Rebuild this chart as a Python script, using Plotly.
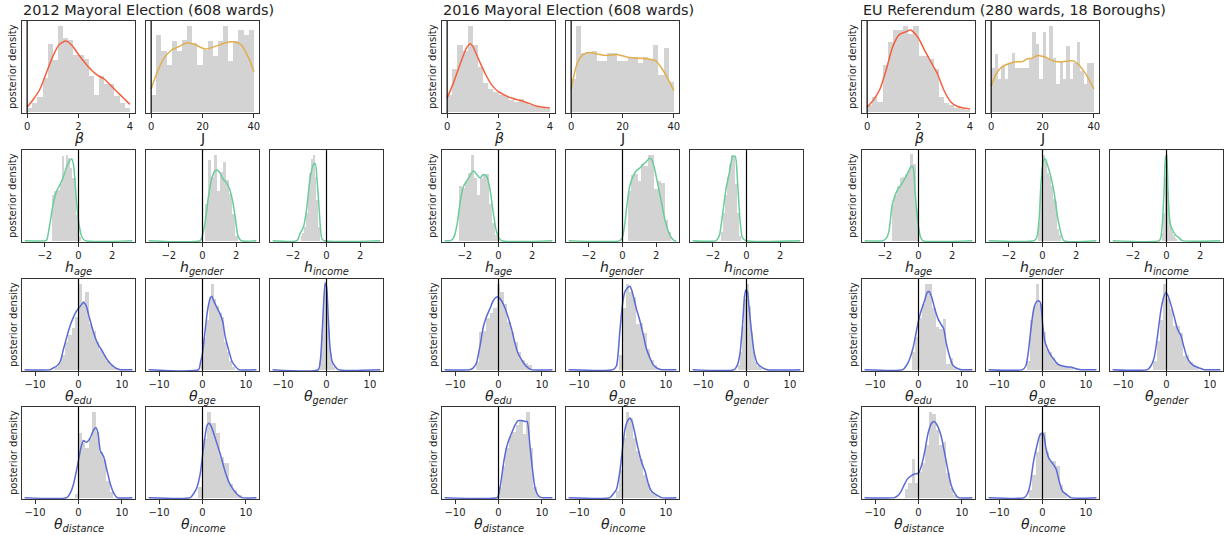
import plotly.graph_objects as go

# ---------------- titles / labels ----------------
group_titles = ["2012 Mayoral Election (608 wards)",
                "2016 Mayoral Election (608 wards)",
                "EU Referendum (280 wards, 18 Boroughs)"]
y_label = "posterior density"
beta_ticks = [0, 2, 4]
j_ticks = [0, 20, 40]
h_ticks = [-2, 0, 2]
theta_ticks = [-10, 0, 10]

# ---------------- 2012 Mayoral Election ----------------
b12_hist_start, b12_hist_width = 0.0, 0.2
b12_hist = [0.04, 0.10, 0.16, 0.37, 0.75, 0.57, 0.95, 0.81, 0.79, 0.63, 0.63, 0.58, 0.39, 0.18, 0.39, 0.31, 0.31, 0.17, 0.10, 0.04]
b12_kde_x = [0, 0.25, 0.5, 0.75, 1.0, 1.25, 1.5, 1.75, 2.0, 2.25, 2.5, 2.75, 3.0, 3.25, 3.5, 3.75, 4.0]
b12_kde_y = [0.05, 0.14, 0.25, 0.43, 0.61, 0.74, 0.78, 0.73, 0.63, 0.54, 0.46, 0.40, 0.36, 0.29, 0.22, 0.15, 0.08]

j12_hist_start, j12_hist_width = 0.0, 2.0
j12_hist = [0.18, 0.85, 0.67, 0.52, 0.78, 0.67, 0.79, 0.95, 0.76, 0.52, 0.68, 0.78, 0.61, 0.78, 0.95, 0.56, 0.78, 0.90, 0.85, 0.90]
j12_kde_x = [0, 2, 5, 8, 11, 14, 17, 21, 25, 29, 32, 35, 38, 40]
j12_kde_y = [0.25, 0.41, 0.59, 0.68, 0.72, 0.76, 0.74, 0.69, 0.72, 0.76, 0.77, 0.74, 0.59, 0.44]

ha12_hist_start, ha12_hist_width = -1.56, 0.12
ha12_hist = [0.50, 0.55, 0.55, 0.56, 0.62, 0.93, 0.75, 0.95, 0.91, 0.80, 0.69, 0.69, 0.28, 0.04]
ha12_kde_x = [-3.2, -1.95, -1.88, -1.68, -1.49, -1.29, -1.09, -0.89, -0.69, -0.5, -0.4, -0.3, -0.2, -0.1, 0.04, 0.2, 0.4, 3.2]
ha12_kde_y = [0, 0, 0.01, 0.21, 0.42, 0.55, 0.62, 0.71, 0.82, 0.89, 0.90, 0.84, 0.64, 0.39, 0.17, 0.04, 0, 0]

hg12_hist_start, hg12_hist_width = 0.12, 0.18
hg12_hist = [0.40, 0.89, 0.70, 0.95, 0.55, 0.76, 0.87, 0.67, 0.52, 0.29, 0.05]
hg12_kde_x = [-3.2, -0.14, 0, 0.16, 0.35, 0.54, 0.74, 0.87, 1.03, 1.22, 1.42, 1.61, 1.81, 1.96, 2.1, 2.29, 3.2]
hg12_kde_y = [0, 0, 0.06, 0.21, 0.48, 0.68, 0.77, 0.78, 0.75, 0.68, 0.64, 0.57, 0.42, 0.24, 0.06, 0, 0]

hi12_hist_start, hi12_hist_width = -1.5, 0.1
hi12_hist = [0.05, 0.08, 0.15, 0.30, 0.50, 0.75, 0.90, 0.95, 0.70, 0.45, 0.15]
hi12_kde_x = [-3.2, -1.76, -1.57, -1.37, -1.18, -0.98, -0.78, -0.67, -0.55, -0.43, -0.29, -0.16, 3.2]
hi12_kde_y = [0, 0, 0.08, 0.15, 0.35, 0.68, 0.84, 0.85, 0.64, 0.33, 0.03, 0, 0]

te12_hist_start, te12_hist_width = -5.6, 0.8
te12_hist = [0.03, 0.07, 0.16, 0.30, 0.38, 0.46, 0.58, 0.94, 0.76, 0.86, 0.50, 0.43, 0.30, 0.22, 0.16, 0.10, 0.05, 0.02]
te12_kde_x = [-12.4, -6.5, -5.8, -5.0, -4.2, -3.5, -2.7, -1.9, -1.15, -0.4, 0.4, 1.15, 1.8, 2.3, 3.1, 3.8, 4.6, 5.4, 6.2, 6.9, 7.7, 8.5, 9.6, 12.4]
te12_kde_y = [0, 0, 0.02, 0.04, 0.09, 0.22, 0.36, 0.49, 0.58, 0.65, 0.70, 0.74, 0.70, 0.61, 0.47, 0.36, 0.27, 0.21, 0.14, 0.09, 0.05, 0.02, 0, 0]

tag12_hist_start, tag12_hist_width = -0.4, 0.6
tag12_hist = [0.08, 0.35, 0.55, 0.80, 0.95, 0.78, 0.70, 0.62, 0.58, 0.30, 0.20, 0.09, 0.03]
tag12_kde_x = [-12.4, -0.9, -0.5, 0, 0.6, 1.15, 1.8, 2.15, 2.5, 3.15, 4.1, 4.7, 5.2, 6.0, 6.8, 7.5, 8.3, 12.4]
tag12_kde_y = [0, 0, 0.07, 0.18, 0.43, 0.65, 0.79, 0.81, 0.77, 0.70, 0.61, 0.52, 0.37, 0.22, 0.09, 0.04, 0, 0]

tgn12_hist_start, tgn12_hist_width = -1.6, 0.4
tgn12_hist = [0.10, 0.38, 0.80, 0.97, 0.85, 0.45, 0.18, 0.07, 0.03]
tgn12_kde_x = [-12.4, -1.9, -1.4, -0.9, -0.6, -0.3, 0, 0.4, 0.8, 1.3, 1.9, 2.7, 12.4]
tgn12_kde_y = [0, 0, 0.11, 0.50, 0.79, 0.95, 0.92, 0.58, 0.25, 0.09, 0.04, 0, 0]

td12_hist_start, td12_hist_width = -0.8, 0.8
td12_hist = [0.04, 0.71, 0.60, 0.55, 0.66, 0.95, 0.72, 0.50, 0.42, 0.18, 0.06]
td12_kde_x = [-12.4, -2.7, -1.9, -1.2, -0.5, 0, 0.55, 1.15, 1.8, 2.3, 2.9, 3.5, 4.0, 4.5, 5.0, 5.8, 6.6, 7.4, 8.1, 8.9, 12.4]
td12_kde_y = [0, 0, 0.05, 0.14, 0.29, 0.41, 0.55, 0.63, 0.61, 0.63, 0.68, 0.75, 0.77, 0.71, 0.52, 0.45, 0.29, 0.14, 0.05, 0, 0]

ti12_hist_start, ti12_hist_width = -1.0, 1.0
ti12_hist = [0.12, 0.65, 0.95, 0.82, 0.71, 0.45, 0.38, 0.15, 0.08, 0.03]
ti12_kde_x = [-12.4, -2.8, -2.1, -1.3, -0.5, 0, 0.6, 1.0, 1.5, 2.15, 2.9, 4.1, 5.0, 6.0, 6.8, 7.9, 9.1, 12.4]
ti12_kde_y = [0, 0, 0.04, 0.11, 0.27, 0.46, 0.68, 0.79, 0.82, 0.77, 0.66, 0.48, 0.32, 0.18, 0.11, 0.04, 0, 0]

# ---------------- 2016 Mayoral Election ----------------
b16_hist_start, b16_hist_width = 0.0, 0.2
b16_hist = [0.18, 0.47, 0.74, 0.67, 0.95, 0.74, 0.49, 0.32, 0.25, 0.22, 0.18, 0.17, 0.13, 0.11, 0.14, 0.09, 0.07, 0.06, 0.04, 0.03]
b16_kde_x = [0, 0.25, 0.5, 0.75, 0.9, 1.0, 1.25, 1.5, 1.75, 2.0, 2.5, 3.0, 3.5, 4.0]
b16_kde_y = [0.15, 0.32, 0.52, 0.70, 0.75, 0.72, 0.56, 0.41, 0.29, 0.22, 0.15, 0.11, 0.06, 0.04]

j16_hist_start, j16_hist_width = 0.0, 2.0
j16_hist = [0.36, 0.95, 0.65, 0.65, 0.67, 0.56, 0.56, 0.65, 0.65, 0.56, 0.56, 0.60, 0.60, 0.54, 0.60, 0.58, 0.74, 0.40, 0.70, 0.33]
j16_kde_x = [0, 2, 4, 6, 8, 11, 14, 18, 22, 26, 30, 33, 35, 37, 40]
j16_kde_y = [0.25, 0.50, 0.61, 0.65, 0.65, 0.63, 0.62, 0.63, 0.60, 0.59, 0.58, 0.56, 0.49, 0.40, 0.23]

ha16_hist_start, ha16_hist_width = -2.35, 0.18
ha16_hist = [0.60, 0.58, 0.66, 0.75, 0.95, 0.69, 0.50, 0.69, 0.74, 0.74, 0.40, 0.19, 0.06]
ha16_kde_x = [-3.2, -2.86, -2.67, -2.47, -2.27, -2.08, -1.88, -1.69, -1.49, -1.29, -1.1, -0.9, -0.7, -0.51, -0.31, -0.16, 0, 0.18, 3.2]
ha16_kde_y = [0, 0, 0.03, 0.17, 0.44, 0.60, 0.66, 0.72, 0.77, 0.73, 0.69, 0.73, 0.71, 0.57, 0.31, 0.13, 0.04, 0, 0]

hg16_hist_start, hg16_hist_width = 0.3, 0.2
hg16_hist = [0.55, 0.72, 0.74, 0.66, 0.85, 0.82, 0.95, 0.95, 0.57, 0.66, 0.64, 0.23, 0.10]
hg16_kde_x = [-3.2, -0.16, 0, 0.14, 0.27, 0.43, 0.63, 0.82, 1.02, 1.22, 1.41, 1.61, 1.75, 1.9, 2.1, 2.3, 2.49, 2.69, 2.88, 3.08, 3.2]
hg16_kde_y = [0, 0, 0.04, 0.19, 0.40, 0.60, 0.71, 0.77, 0.80, 0.84, 0.87, 0.91, 0.89, 0.80, 0.62, 0.44, 0.26, 0.12, 0.04, 0, 0]

hi16_hist_start, hi16_hist_width = -1.5, 0.12
hi16_hist = [0.10, 0.30, 0.50, 0.70, 0.85, 0.95, 0.93, 0.62, 0.30, 0.05]
hi16_kde_x = [-3.2, -1.8, -1.61, -1.41, -1.22, -1.02, -0.82, -0.67, -0.53, -0.39, -0.24, -0.04, 3.2]
hi16_kde_y = [0, 0, 0.06, 0.31, 0.57, 0.75, 0.93, 0.93, 0.64, 0.24, 0.03, 0, 0]

te16_hist_start, te16_hist_width = -5.2, 0.8
te16_hist = [0.08, 0.41, 0.43, 0.57, 0.62, 0.68, 0.95, 0.86, 0.72, 0.53, 0.42, 0.31, 0.20, 0.11, 0.07, 0.05]
te16_kde_x = [-12.4, -6.6, -5.8, -5.1, -4.3, -3.5, -2.8, -2.0, -1.2, -0.5, 0, 0.7, 1.5, 2.2, 3.0, 3.8, 4.5, 5.3, 6.1, 6.8, 7.6, 12.4]
te16_kde_y = [0, 0, 0.02, 0.07, 0.25, 0.47, 0.58, 0.67, 0.76, 0.80, 0.80, 0.76, 0.68, 0.58, 0.45, 0.29, 0.18, 0.11, 0.05, 0.02, 0, 0]

tag16_hist_start, tag16_hist_width = -0.8, 0.8
tag16_hist = [0.16, 0.68, 0.95, 0.86, 0.80, 0.50, 0.52, 0.40, 0.23, 0.11, 0.05]
tag16_kde_x = [-12.4, -2.2, -1.4, -0.6, 0, 0.5, 1.1, 1.7, 2.1, 2.6, 3.2, 4.0, 4.8, 5.5, 6.3, 7.1, 8.2, 9.0, 12.4]
tag16_kde_y = [0, 0, 0.04, 0.43, 0.72, 0.85, 0.90, 0.92, 0.88, 0.79, 0.67, 0.54, 0.38, 0.23, 0.13, 0.05, 0.01, 0, 0]

tgn16_hist_start, tgn16_hist_width = -2.0, 0.5
tgn16_hist = [0.05, 0.20, 0.48, 0.78, 0.95, 0.70, 0.42, 0.20, 0.08, 0.04, 0.02]
tgn16_kde_x = [-12.4, -2.85, -2.1, -1.5, -0.9, -0.45, -0.15, 0.25, 0.6, 1.2, 1.8, 2.5, 3.7, 4.8, 12.4]
tgn16_kde_y = [0, 0, 0.05, 0.18, 0.50, 0.81, 0.88, 0.85, 0.68, 0.40, 0.18, 0.07, 0.02, 0, 0]

td16_hist_start, td16_hist_width = 0.0, 0.8
td16_hist = [0.12, 0.35, 0.55, 0.68, 0.72, 0.80, 0.86, 0.70, 0.95, 0.55, 0.12, 0.02]
td16_kde_x = [-12.4, -0.3, 0, 0.46, 1.1, 1.6, 2.2, 3.0, 3.8, 4.5, 5.3, 6.1, 6.6, 7.2, 7.8, 8.4, 9.2, 9.9, 12.4]
td16_kde_y = [0, 0, 0.03, 0.14, 0.36, 0.50, 0.61, 0.71, 0.80, 0.85, 0.85, 0.84, 0.84, 0.59, 0.32, 0.11, 0.02, 0, 0]

ti16_hist_start, ti16_hist_width = -1.6, 0.8
ti16_hist = [0.07, 0.30, 0.66, 0.95, 0.88, 0.66, 0.52, 0.43, 0.25, 0.15, 0.06, 0.03]
ti16_kde_x = [-12.4, -2.9, -2.15, -1.4, -0.6, 0, 0.55, 1.1, 1.7, 2.2, 2.85, 3.6, 4.4, 5.2, 5.9, 6.7, 7.8, 9.0, 12.4]
ti16_kde_y = [0, 0, 0.04, 0.09, 0.29, 0.54, 0.75, 0.84, 0.88, 0.84, 0.71, 0.54, 0.39, 0.29, 0.16, 0.07, 0.03, 0, 0]

# ---------------- EU Referendum ----------------
beu_hist_start, beu_hist_width = 0.0, 0.2
beu_hist = [0.07, 0.16, 0.11, 0.52, 0.77, 0.90, 0.90, 0.95, 0.86, 0.95, 0.61, 0.61, 0.58, 0.47, 0.16, 0.09, 0.07, 0.04, 0.03, 0.02]
beu_kde_x = [0, 0.25, 0.5, 0.75, 1.0, 1.25, 1.5, 1.7, 2.0, 2.25, 2.5, 2.75, 3.0, 3.25, 3.5, 3.75, 4.0]
beu_kde_y = [0.05, 0.13, 0.25, 0.47, 0.72, 0.85, 0.88, 0.90, 0.81, 0.67, 0.54, 0.41, 0.23, 0.11, 0.06, 0.04, 0.03]

jeu_hist_start, jeu_hist_width = 0.0, 40 / 30
jeu_hist = [0.48, 0.64, 0.36, 0.50, 0.36, 0.54, 0.65, 0.48, 0.48, 0.48, 0.48, 0.59, 0.88, 0.75, 0.36, 0.88,
            0.59, 0.94, 0.59, 0.31, 0.55, 0.36, 0.72, 0.36, 0.54, 0.77, 0.45, 0.30, 0.54, 0.54]
jeu_kde_x = [0, 2, 4, 6, 8, 10, 12, 14, 16, 18, 20, 22, 24, 26, 28, 30, 32, 34, 36, 38, 40]
jeu_kde_y = [0.28, 0.42, 0.49, 0.52, 0.54, 0.55, 0.55, 0.58, 0.59, 0.62, 0.61, 0.59, 0.56, 0.55, 0.55, 0.56, 0.56, 0.52, 0.45, 0.36, 0.25]

haeu_hist_start, haeu_hist_width = -1.6, 0.16
haeu_hist = [0.40, 0.50, 0.60, 0.69, 0.70, 0.74, 0.78, 0.96, 0.85, 0.35]
haeu_kde_x = [-3.2, -2.1, -1.9, -1.76, -1.57, -1.41, -1.22, -1.02, -0.82, -0.63, -0.43, -0.31, -0.2, -0.04, 0.12, 0.25, 3.2]
haeu_kde_y = [0, 0, 0.03, 0.10, 0.39, 0.49, 0.57, 0.62, 0.68, 0.75, 0.82, 0.80, 0.53, 0.21, 0.04, 0, 0]

hgeu_hist_start, hgeu_hist_width = -0.24, 0.12
hgeu_hist = [0.20, 0.57, 0.95, 0.87, 0.75, 0.71, 0.60, 0.46, 0.44, 0.13, 0.06]
hgeu_kde_x = [-3.2, -0.5, -0.33, -0.2, -0.1, 0, 0.14, 0.29, 0.49, 0.69, 0.88, 1.08, 1.27, 3.2]
hgeu_kde_y = [0, 0, 0.04, 0.24, 0.60, 0.82, 0.91, 0.84, 0.71, 0.53, 0.28, 0.10, 0, 0]

hieu_hist_start, hieu_hist_width = -0.24, 0.08
hieu_hist = [0.08, 0.30, 0.70, 0.95, 0.55, 0.22, 0.14, 0.10, 0.06, 0.03, 0.02]
hieu_kde_x = [-3.2, -0.43, -0.33, -0.24, -0.14, -0.06, 0.02, 0.1, 0.22, 0.35, 0.55, 0.75, 0.94, 3.2]
hieu_kde_y = [0, 0, 0.04, 0.21, 0.57, 0.93, 0.89, 0.49, 0.19, 0.12, 0.06, 0.03, 0, 0]

teeu_hist_start, teeu_hist_width = -1.6, 0.8
teeu_hist = [0.20, 0.36, 0.57, 0.72, 0.95, 0.95, 0.68, 0.47, 0.45, 0.56, 0.06, 0.13, 0.03]
teeu_kde_x = [-12.4, -3.6, -2.85, -2.1, -1.3, -0.54, 0, 0.6, 1.4, 2.0, 2.5, 3.1, 3.7, 4.5, 5.2, 5.8, 6.4, 7.2, 7.9, 8.7, 9.8, 12.4]
teeu_kde_y = [0, 0, 0.04, 0.11, 0.23, 0.41, 0.54, 0.65, 0.76, 0.85, 0.86, 0.79, 0.68, 0.56, 0.50, 0.45, 0.29, 0.14, 0.05, 0.02, 0, 0]

tageu_hist_start, tageu_hist_width = -3.5, 0.7
tageu_hist = [0.10, 0.55, 0.70, 0.95, 0.72, 0.42, 0.23, 0.20, 0.13, 0.08, 0.05, 0.04, 0.03, 0.03, 0.02]
tageu_kde_x = [-12.4, -4.6, -3.85, -3.3, -2.7, -2.1, -1.5, -1.0, -0.5, 0, 0.5, 1.15, 1.9, 2.7, 3.5, 4.6, 5.8, 6.5, 7.7, 8.8, 12.4]
tageu_kde_y = [0, 0, 0.04, 0.18, 0.43, 0.65, 0.74, 0.76, 0.74, 0.52, 0.32, 0.23, 0.16, 0.11, 0.06, 0.04, 0.03, 0.03, 0.01, 0, 0]

tgneu_hist_start, tgneu_hist_width = -3.0, 0.75
tgneu_hist = [0.10, 0.32, 0.55, 0.95, 0.78, 0.67, 0.48, 0.48, 0.40, 0.15, 0.16, 0.08, 0.04, 0.02]
tgneu_kde_x = [-12.4, -4.4, -3.6, -2.85, -2.1, -1.3, -0.7, -0.15, 0.4, 1.0, 1.8, 2.5, 3.3, 3.9, 4.7, 5.6, 6.4, 7.5, 8.7, 12.4]
tgneu_kde_y = [0, 0, 0.04, 0.13, 0.36, 0.65, 0.79, 0.85, 0.81, 0.72, 0.58, 0.45, 0.38, 0.27, 0.14, 0.07, 0.04, 0.02, 0, 0]

tdeu_hist_start, tdeu_hist_width = -3.2, 0.8
tdeu_hist = [0.10, 0.16, 0.43, 0.16, 0.28, 0.38, 0.58, 0.94, 0.92, 0.75, 0.58, 0.61, 0.27, 0.11, 0.03]
tdeu_kde_x = [-12.4, -5.6, -4.8, -4.1, -3.3, -2.5, -1.7, -0.94, 0, 0.6, 1.4, 2.2, 3.0, 3.6, 4.4, 5.2, 5.9, 6.7, 7.5, 8.3, 9.2, 12.4]
tdeu_kde_y = [0, 0, 0.02, 0.06, 0.14, 0.21, 0.24, 0.26, 0.27, 0.34, 0.50, 0.71, 0.82, 0.84, 0.79, 0.68, 0.52, 0.32, 0.14, 0.05, 0, 0]

tieu_hist_start, tieu_hist_width = -3.2, 0.8
tieu_hist = [0.08, 0.25, 0.50, 0.71, 0.72, 0.50, 0.40, 0.40, 0.35, 0.14, 0.05]
tieu_kde_x = [-12.4, -4.2, -3.5, -2.85, -2.1, -1.3, -0.7, -0.23, 0.23, 0.77, 1.5, 2.3, 3.1, 3.85, 4.6, 5.4, 6.5, 12.4]
tieu_kde_y = [0, 0, 0.04, 0.14, 0.39, 0.57, 0.68, 0.71, 0.70, 0.55, 0.43, 0.38, 0.32, 0.18, 0.07, 0.04, 0, 0]

# ---------------- panel table: (group, row, col, kind, label, hist, kde) ----------------
def lab(sym, sub):
    return "<i>%s</i><sub><i>%s</i></sub>" % (sym, sub)

panels = [
    (0, 0, 0, "beta", "<i>β</i>", (b12_hist_start, b12_hist_width, b12_hist), (b12_kde_x, b12_kde_y)),
    (0, 0, 1, "J", "J", (j12_hist_start, j12_hist_width, j12_hist), (j12_kde_x, j12_kde_y)),
    (0, 1, 0, "h", lab("h", "age"), (ha12_hist_start, ha12_hist_width, ha12_hist), (ha12_kde_x, ha12_kde_y)),
    (0, 1, 1, "h", lab("h", "gender"), (hg12_hist_start, hg12_hist_width, hg12_hist), (hg12_kde_x, hg12_kde_y)),
    (0, 1, 2, "h", lab("h", "income"), (hi12_hist_start, hi12_hist_width, hi12_hist), (hi12_kde_x, hi12_kde_y)),
    (0, 2, 0, "theta", lab("θ", "edu"), (te12_hist_start, te12_hist_width, te12_hist), (te12_kde_x, te12_kde_y)),
    (0, 2, 1, "theta", lab("θ", "age"), (tag12_hist_start, tag12_hist_width, tag12_hist), (tag12_kde_x, tag12_kde_y)),
    (0, 2, 2, "theta", lab("θ", "gender"), (tgn12_hist_start, tgn12_hist_width, tgn12_hist), (tgn12_kde_x, tgn12_kde_y)),
    (0, 3, 0, "theta", lab("θ", "distance"), (td12_hist_start, td12_hist_width, td12_hist), (td12_kde_x, td12_kde_y)),
    (0, 3, 1, "theta", lab("θ", "income"), (ti12_hist_start, ti12_hist_width, ti12_hist), (ti12_kde_x, ti12_kde_y)),

    (1, 0, 0, "beta", "<i>β</i>", (b16_hist_start, b16_hist_width, b16_hist), (b16_kde_x, b16_kde_y)),
    (1, 0, 1, "J", "J", (j16_hist_start, j16_hist_width, j16_hist), (j16_kde_x, j16_kde_y)),
    (1, 1, 0, "h", lab("h", "age"), (ha16_hist_start, ha16_hist_width, ha16_hist), (ha16_kde_x, ha16_kde_y)),
    (1, 1, 1, "h", lab("h", "gender"), (hg16_hist_start, hg16_hist_width, hg16_hist), (hg16_kde_x, hg16_kde_y)),
    (1, 1, 2, "h", lab("h", "income"), (hi16_hist_start, hi16_hist_width, hi16_hist), (hi16_kde_x, hi16_kde_y)),
    (1, 2, 0, "theta", lab("θ", "edu"), (te16_hist_start, te16_hist_width, te16_hist), (te16_kde_x, te16_kde_y)),
    (1, 2, 1, "theta", lab("θ", "age"), (tag16_hist_start, tag16_hist_width, tag16_hist), (tag16_kde_x, tag16_kde_y)),
    (1, 2, 2, "theta", lab("θ", "gender"), (tgn16_hist_start, tgn16_hist_width, tgn16_hist), (tgn16_kde_x, tgn16_kde_y)),
    (1, 3, 0, "theta", lab("θ", "distance"), (td16_hist_start, td16_hist_width, td16_hist), (td16_kde_x, td16_kde_y)),
    (1, 3, 1, "theta", lab("θ", "income"), (ti16_hist_start, ti16_hist_width, ti16_hist), (ti16_kde_x, ti16_kde_y)),

    (2, 0, 0, "beta", "<i>β</i>", (beu_hist_start, beu_hist_width, beu_hist), (beu_kde_x, beu_kde_y)),
    (2, 0, 1, "J", "J", (jeu_hist_start, jeu_hist_width, jeu_hist), (jeu_kde_x, jeu_kde_y)),
    (2, 1, 0, "h", lab("h", "age"), (haeu_hist_start, haeu_hist_width, haeu_hist), (haeu_kde_x, haeu_kde_y)),
    (2, 1, 1, "h", lab("h", "gender"), (hgeu_hist_start, hgeu_hist_width, hgeu_hist), (hgeu_kde_x, hgeu_kde_y)),
    (2, 1, 2, "h", lab("h", "income"), (hieu_hist_start, hieu_hist_width, hieu_hist), (hieu_kde_x, hieu_kde_y)),
    (2, 2, 0, "theta", lab("θ", "edu"), (teeu_hist_start, teeu_hist_width, teeu_hist), (teeu_kde_x, teeu_kde_y)),
    (2, 2, 1, "theta", lab("θ", "age"), (tageu_hist_start, tageu_hist_width, tageu_hist), (tageu_kde_x, tageu_kde_y)),
    (2, 2, 2, "theta", lab("θ", "gender"), (tgneu_hist_start, tgneu_hist_width, tgneu_hist), (tgneu_kde_x, tgneu_kde_y)),
    (2, 3, 0, "theta", lab("θ", "distance"), (tdeu_hist_start, tdeu_hist_width, tdeu_hist), (tdeu_kde_x, tdeu_kde_y)),
    (2, 3, 1, "theta", lab("θ", "income"), (tieu_hist_start, tieu_hist_width, tieu_hist), (tieu_kde_x, tieu_kde_y)),
]

# ---------------- styling / layout ----------------
W, H = 1225, 535
FONT = "DejaVu Sans"
group_left = [22, 442, 862]
col_step = 124
row_top = [21, 150, 279, 407]
PW, PH = 113, 92
HIST_COLOR = "#d3d3d3"
FRAME = "#333333"
kind_style = {
    "beta": dict(color="#f4603f", rng=[-0.2, 4.2], ticks=beta_ticks),
    "J": dict(color="#e2ae4c", rng=[-2, 42], ticks=j_ticks),
    "h": dict(color="#6acc9a", rng=[-3.36, 3.36], ticks=h_ticks),
    "theta": dict(color="#5a6ad6", rng=[-13.0, 13.0], ticks=theta_ticks),
}

def px_x(x):
    return x / W

def px_y(y):
    return 1 - y / H

fig = go.Figure()
layout = dict(width=W, height=H, margin=dict(l=0, r=0, t=0, b=0),
              paper_bgcolor="white", plot_bgcolor="white", showlegend=False,
              bargap=0, font=dict(family=FONT, color="#222222"))
annotations = []
shapes = []

for i, (g, r, c, kind, label, hist, kde) in enumerate(panels):
    n = i + 1
    xa = "x" if n == 1 else "x%d" % n
    ya = "y" if n == 1 else "y%d" % n
    st = kind_style[kind]
    left = group_left[g] + c * col_step
    top = row_top[r]
    x0, x1 = px_x(left), px_x(left + PW)
    y1, y0 = px_y(top), px_y(top + PH)

    hs, hw, hv = hist
    centers = [hs + hw * (k + 0.5) for k in range(len(hv))]
    fig.add_trace(go.Bar(x=centers, y=hv, width=[hw] * len(hv), xaxis=xa, yaxis=ya,
                         marker=dict(color=HIST_COLOR, line=dict(width=0)), hoverinfo="skip"))
    fig.add_trace(go.Scatter(x=kde[0], y=kde[1], mode="lines", xaxis=xa, yaxis=ya,
                             line=dict(color=st["color"], width=1.5, shape="spline", smoothing=0.6),
                             hoverinfo="skip"))

    axis_common = dict(showline=True, mirror=True, linecolor=FRAME, linewidth=1,
                       showgrid=False, zeroline=False)
    layout["xaxis" + ("" if n == 1 else str(n))] = dict(
        domain=[x0, x1], anchor=ya, range=st["rng"], tickvals=st["ticks"],
        ticks="outside", ticklen=3.5, tickwidth=1, tickcolor=FRAME,
        tickfont=dict(size=10, family=FONT, color="#222222"), **axis_common)
    layout["yaxis" + ("" if n == 1 else str(n))] = dict(
        domain=[y0, y1], anchor=xa, range=[-0.015, 1.0], showticklabels=False,
        ticks="", **axis_common)

    # zero reference line
    shapes.append(dict(type="line", xref=xa, yref=ya + " domain", x0=0, x1=0, y0=0, y1=1,
                       line=dict(color="black", width=1.2), layer="above"))

    # x-axis label
    annotations.append(dict(text=label, x=(x0 + x1) / 2, y=px_y(top + PH + 15),
                            xref="paper", yref="paper", xanchor="center", yanchor="top",
                            showarrow=False, font=dict(size=14, family=FONT, color="#222222")))
    # y-axis label on first column
    if c == 0:
        annotations.append(dict(text=y_label, x=px_x(left - 9), y=px_y(top + PH / 2),
                                xref="paper", yref="paper", xanchor="center", yanchor="middle",
                                textangle=-90, showarrow=False,
                                font=dict(size=10, family=FONT, color="#222222")))

for g, title in enumerate(group_titles):
    annotations.append(dict(text=title, x=px_x(group_left[g] - 1), y=px_y(10), xref="paper", yref="paper",
                            xanchor="left", yanchor="middle", showarrow=False,
                            font=dict(size=14.4, family=FONT, color="#222222")))

layout["annotations"] = annotations
layout["shapes"] = shapes
fig.update_layout(**layout)
fig.write_html("out.html", config={"displayModeBar": False},
               post_script="document.body.style.margin='0px';document.body.style.overflow='hidden';")
